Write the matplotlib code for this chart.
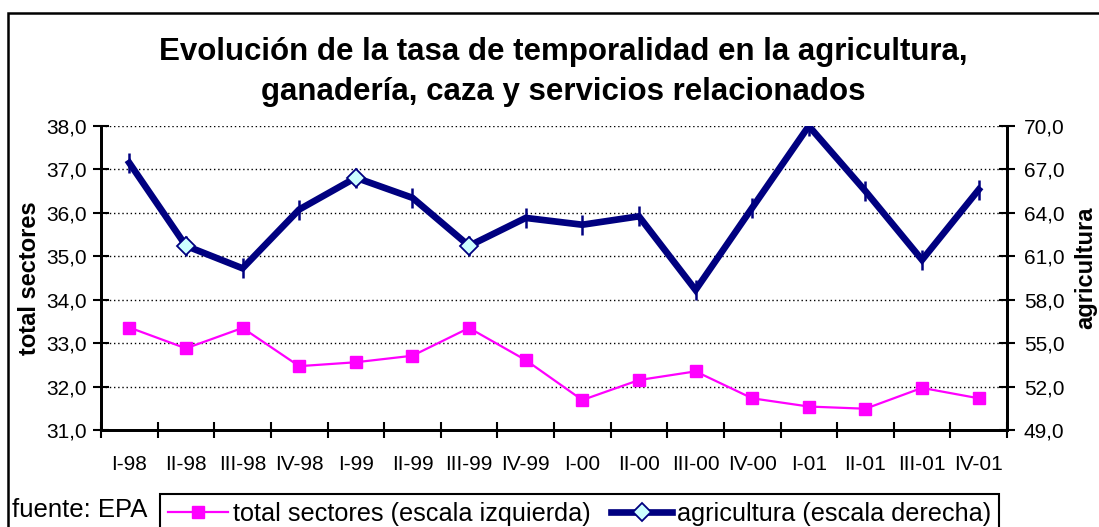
import matplotlib
matplotlib.use("Agg")
import matplotlib.pyplot as plt
from matplotlib.lines import Line2D
from matplotlib.patches import Rectangle
from matplotlib.ticker import FixedLocator, FuncFormatter

plt.rcParams['font.family'] = ['Liberation Sans', 'DejaVu Sans']

categories = ["I-98", "II-98", "III-98", "IV-98", "I-99", "II-99", "III-99", "IV-99",
              "I-00", "II-00", "III-00", "IV-00", "I-01", "II-01", "III-01", "IV-01"]
total_sectores = [33.36, 32.88, 33.35, 32.47, 32.56, 32.71, 33.35, 32.61,
                  31.69, 32.15, 32.35, 31.73, 31.54, 31.49, 31.97, 31.73]
agricultura = [67.45, 61.72, 60.17, 64.23, 66.43, 65.04, 61.72, 63.65,
               63.18, 63.76, 58.67, 64.35, 70.0, 65.5, 60.75, 65.6]
diamond_points = [1, 4, 6]
left_ticks = [31, 32, 33, 34, 35, 36, 37, 38]
right_ticks = [49, 52, 55, 58, 61, 64, 67, 70]

W, H = 1099, 527
fig = plt.figure(figsize=(W / 100, H / 100), dpi=100)
fig.patch.set_facecolor('white')

# outer chart frame
fig.patches.append(Rectangle((8 / W, -0.05), 1.1, 1 - 13 / H + 0.05,
                             transform=fig.transFigure, fill=False,
                             edgecolor='black', linewidth=1.8))

left, right, bottom, top = 101 / W, 1007 / W, 1 - 430 / H, 1 - 126 / H
ax = fig.add_axes([left, bottom, right - left, top - bottom])
ax2 = ax.twinx()

x = list(range(len(categories)))
fmt = FuncFormatter(lambda v, p: f"{v:.1f}".replace('.', ','))

ax.plot(x, total_sectores, color='#ff00ff', lw=1.6, marker='s', ms=9,
        mfc='#ff00ff', mec='#ff00ff', zorder=3)
ax.set_xlim(-0.5, len(categories) - 0.5)
ax.set_ylim(left_ticks[0], left_ticks[-1])
ax.yaxis.set_major_locator(FixedLocator(left_ticks))
ax.yaxis.set_major_formatter(fmt)
ax.grid(axis='y', color='black', linestyle=(0, (1, 2)), linewidth=1)
ax.set_axisbelow(True)

ax.xaxis.set_major_locator(FixedLocator([i - 0.5 for i in range(len(categories) + 1)]))
ax.xaxis.set_major_formatter(FuncFormatter(lambda v, p: ""))
ax.xaxis.set_minor_locator(FixedLocator(x))
ax.set_xticklabels(categories, minor=True)
ax.tick_params(axis='x', which='major', direction='inout', length=12, width=1.5)
ax.tick_params(axis='x', which='minor', length=0, pad=18, labelsize=15)
ax.tick_params(axis='y', direction='inout', length=12, width=1.5, labelsize=15, pad=4)

ax2.plot(x, agricultura, color='#000080', lw=4.8, marker='|', ms=15, mew=1.8,
         mec='#000080', zorder=4, solid_joinstyle='miter')
ax2.plot([x[i] for i in diamond_points], [agricultura[i] for i in diamond_points],
         linestyle='none', marker='D', ms=9, mfc='#ccffff', mec='#000080', mew=1.3,
         zorder=5)
ax2.set_ylim(right_ticks[0], right_ticks[-1])
ax2.yaxis.set_major_locator(FixedLocator(right_ticks))
ax2.yaxis.set_major_formatter(fmt)
ax2.tick_params(axis='y', direction='inout', length=12, width=1.5, labelsize=15, pad=6)

for a in (ax, ax2):
    a.spines['top'].set_visible(False)
    for s in ('left', 'right', 'bottom'):
        a.spines[s].set_linewidth(2)
    a.patch.set_visible(False)

fig.text(30 / W, 1 - 278 / H, "total sectores", rotation=90, ha='center', va='center',
         fontsize=17, fontweight='bold')
fig.text(1086 / W, 1 - 268 / H, "agricultura", rotation=90, ha='center', va='center',
         fontsize=17, fontweight='bold')

fig.text(563 / W, 1 - 72 / H,
         "Evolución de la tasa de temporalidad en la agricultura,\nganadería, caza y servicios relacionados",
         ha='center', va='center', fontsize=22.5, fontweight='bold', linespacing=1.45)

fig.text(12 / W, 1 - 510 / H, "fuente: EPA", ha='left', va='center', fontsize=18.5)

handles = [Line2D([], [], color='#ff00ff', lw=1.6, marker='s', ms=9, mfc='#ff00ff', mec='#ff00ff'),
           Line2D([], [], color='#000080', lw=4.8, marker='D', ms=9, mfc='#ccffff', mec='#000080', mew=1.3)]
leg = fig.legend(handles, ["total sectores (escala izquierda)", "agricultura (escala derecha)"],
                 loc='upper left', bbox_to_anchor=(160 / W, 1 - 494 / H), ncol=2,
                 borderaxespad=0, fontsize=18.2, frameon=True, fancybox=False,
                 edgecolor='black', framealpha=1, handlelength=2.4, handletextpad=0.2,
                 columnspacing=0.8, borderpad=0.3)
leg.get_frame().set_linewidth(1.5)

fig.savefig("out.png", dpi=100, facecolor='white')
